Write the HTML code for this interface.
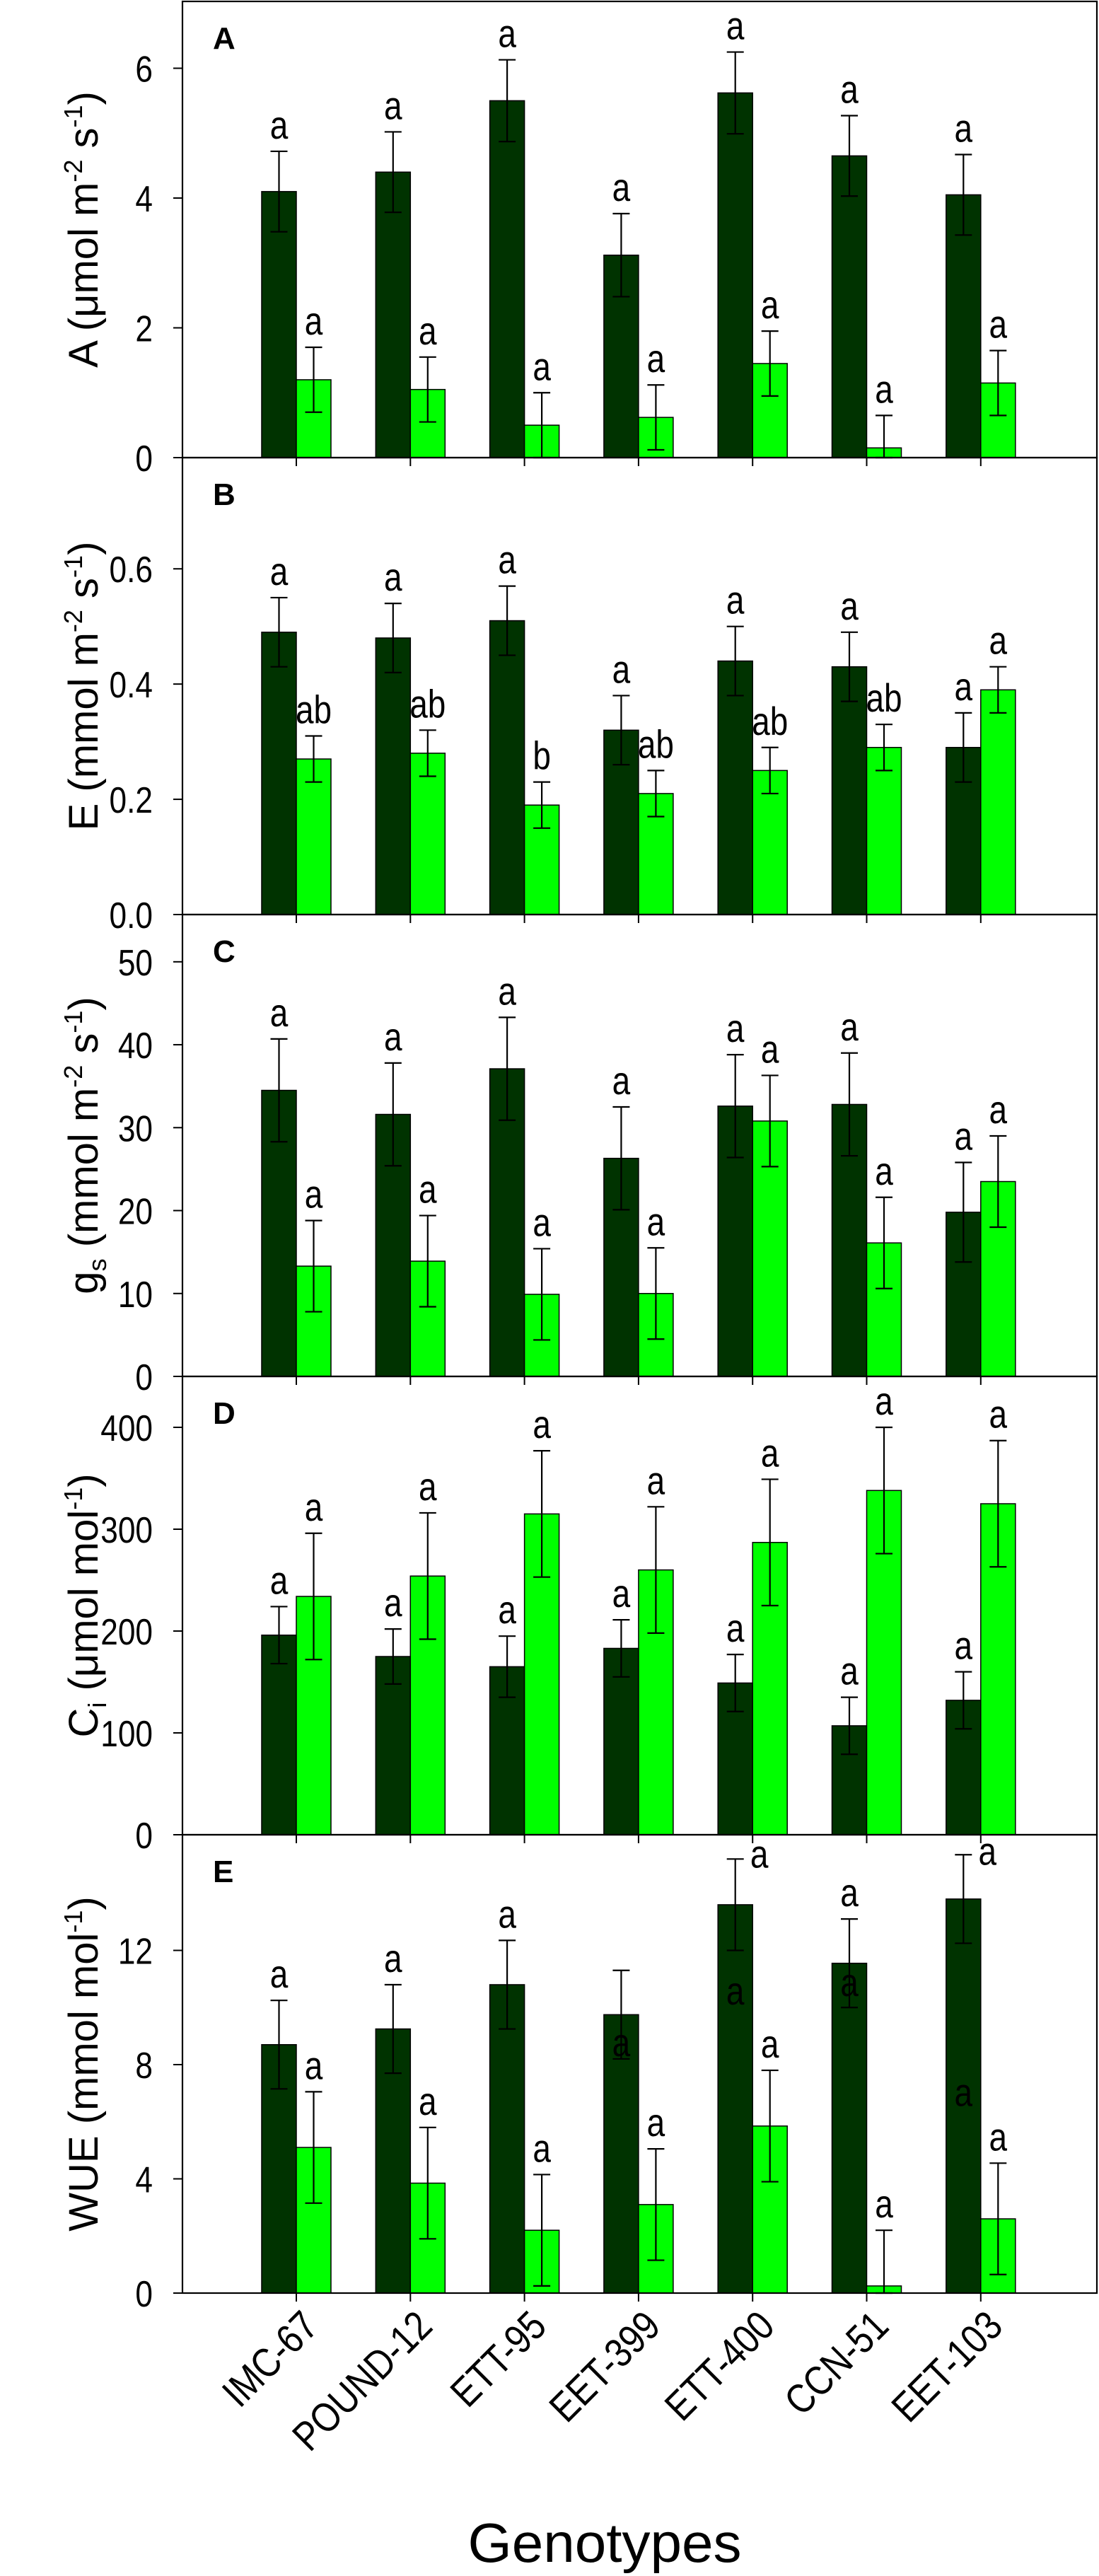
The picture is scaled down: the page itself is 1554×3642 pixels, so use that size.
<!DOCTYPE html>
<html><head><meta charset="utf-8">
<style>
html,body{margin:0;padding:0;background:#fff;}
svg{display:block;font-family:"Liberation Sans",Arial,sans-serif;}
</style></head>
<body>
<svg id="chart" width="1554" height="3642" viewBox="0 0 1554 3642" xmlns="http://www.w3.org/2000/svg"></svg>
<script>
const genotypes = ["IMC-67","POUND-12","ETT-95","EET-399","ETT-400","CCN-51","EET-103"];

const aDark = [4.1,4.4,5.5,3.12,5.62,4.65,4.05];
const aDarkErr = [0.62,0.62,0.63,0.64,0.63,0.62,0.62];
const aLight = [1.2,1.05,0.5,0.62,1.45,0.15,1.15];
const aLightErr = [0.5,0.5,0.5,0.5,0.5,0.5,0.5];
const aDarkLbl = ["a","a","a","a","a","a","a"];
const aLightLbl = ["a","a","a","a","a","a","a"];
const aTicks = [0,2,4,6];

const eDark = [0.49,0.48,0.51,0.32,0.44,0.43,0.29];
const eDarkErr = [0.06,0.06,0.06,0.06,0.06,0.06,0.06];
const eLight = [0.27,0.28,0.19,0.21,0.25,0.29,0.39];
const eLightErr = [0.04,0.04,0.04,0.04,0.04,0.04,0.04];
const eDarkLbl = ["a","a","a","a","a","a","a"];
const eLightLbl = ["ab","ab","b","ab","ab","ab","a"];
const eTicks = [0,0.2,0.4,0.6];

const gDark = [34.5,31.6,37.1,26.3,32.6,32.8,19.8];
const gDarkErr = [6.2,6.2,6.2,6.2,6.2,6.2,6.0];
const gLight = [13.3,13.9,9.9,10.0,30.8,16.1,23.5];
const gLightErr = [5.5,5.5,5.5,5.5,5.5,5.5,5.5];
const gDarkLbl = ["a","a","a","a","a","a","a"];
const gLightLbl = ["a","a","a","a","a","a","a"];
const gTicks = [0,10,20,30,40,50];

const cDark = [196,175,165,183,149,107,132];
const cDarkErr = [28,27,30,28,28,28,28];
const cLight = [234,254,315,260,287,338,325];
const cLightErr = [62,62,62,62,62,62,62];
const cDarkLbl = ["a","a","a","a","a","a","a"];
const cLightLbl = ["a","a","a","a","a","a","a"];
const cTicks = [0,100,200,300,400];

const wDark = [8.7,9.25,10.8,9.75,13.6,11.55,13.8];
const wDarkErr = [1.55,1.55,1.55,1.55,1.6,1.55,1.55];
const wLight = [5.1,3.85,2.2,3.1,5.85,0.25,2.6];
const wLightErr = [1.95,1.95,1.95,1.95,1.95,1.95,1.95];
const wDarkLbl = ["a","a","a","","","a",""];
const wLightLbl = ["a","a","a","a","a","a","a"];
const wTicks = [0,4,8,12];
const wExtraIdx = [3,4,4,5,6,6];
const wExtraVal = [8.3,14.9,10.1,10.4,15.0,6.55];
const wExtraSide = [0,1,0,0,1,0];

const svg = document.getElementById('chart');
const NS = "http://www.w3.org/2000/svg";
const X0 = 258, X1 = 1551, G0 = 419, GSTEP = 161.3, BW = 49;
const DARK = "#003300", LIGHT = "#00ff00";
function gx(i){ return G0 + i*GSTEP; }
function mk(tag, attrs, parent){
  const e = document.createElementNS(NS, tag);
  for (const k in attrs) e.setAttribute(k, attrs[k]);
  (parent||svg).appendChild(e);
  return e;
}
function letter(parent, cx, by, txt){
  const t = mk('text', {x:0, y:0, "font-size":56, "text-anchor":"middle", fill:"#000", transform:`translate(${cx} ${by}) scale(0.82 1)`}, parent);
  t.textContent = txt;
  return t;
}

const panels = [
 {id:"a", letter:"A", top:2, bot:647, max:7.03, dark:aDark, dErr:aDarkErr, light:aLight, lErr:aLightErr, dL:aDarkLbl, lL:aLightLbl, ticks:aTicks, dec:0, title:'A (μmol m<tspan dy="-22" font-size="36">-2</tspan><tspan dy="22"> s</tspan><tspan dy="-22" font-size="36">-1</tspan><tspan dy="22">)</tspan>'},
 {id:"b", letter:"B", top:647, bot:1293, max:0.793, dark:eDark, dErr:eDarkErr, light:eLight, lErr:eLightErr, dL:eDarkLbl, lL:eLightLbl, ticks:eTicks, dec:1, title:'E (mmol  m<tspan dy="-22" font-size="36">-2</tspan><tspan dy="22"> s</tspan><tspan dy="-22" font-size="36">-1</tspan><tspan dy="22">)</tspan>'},
 {id:"c", letter:"C", top:1293, bot:1946, max:55.7, dark:gDark, dErr:gDarkErr, light:gLight, lErr:gLightErr, dL:gDarkLbl, lL:gLightLbl, ticks:gTicks, dec:0, title:'g<tspan dy="12" font-size="36">s</tspan><tspan dy="-12"> (mmol m</tspan><tspan dy="-22" font-size="36">-2</tspan><tspan dy="22"> s</tspan><tspan dy="-22" font-size="36">-1</tspan><tspan dy="22">)</tspan>'},
 {id:"d", letter:"D", top:1946, bot:2594, max:450, dark:cDark, dErr:cDarkErr, light:cLight, lErr:cLightErr, dL:cDarkLbl, lL:cLightLbl, ticks:cTicks, dec:0, title:'C<tspan dy="12" font-size="36">i</tspan><tspan dy="-12"> (μmol  mol</tspan><tspan dy="-22" font-size="36">-1</tspan><tspan dy="22">)</tspan>'},
 {id:"e", letter:"E", top:2594, bot:3242, max:16.05, dark:wDark, dErr:wDarkErr, light:wLight, lErr:wLightErr, dL:wDarkLbl, lL:wLightLbl, ticks:wTicks, dec:0, title:'WUE (mmol  mol<tspan dy="-22" font-size="36">-1</tspan><tspan dy="22">)</tspan>'}
];

panels.forEach(p => {
  const y = v => p.bot - v*(p.bot - p.top)/p.max;
  const g = mk('g', {});
  
  

  const drawSeries = (vals, errs, lbls, off, color, kind) => {
    vals.forEach((v, i) => {
      const x = gx(i) + off;
      const r = mk('rect', {x:x, y:y(v), width:BW, height:p.bot - y(v), fill:color, stroke:"#000", "stroke-width":1.5}, g);
      
      
      const cx = x + BW/2;
      const yt = y(v + errs[i]), yb = y(Math.max(0, v - errs[i]));
      const eg = mk('g', {stroke:"#000", "stroke-width":2.2}, g);
      
      
      mk('line', {x1:cx, y1:yt, x2:cx, y2:yb}, eg);
      mk('line', {x1:cx-12, y1:yt, x2:cx+12, y2:yt}, eg);
      mk('line', {x1:cx-12, y1:yb, x2:cx+12, y2:yb}, eg);
      if (lbls[i]) {
        const t = letter(g, cx, yt - 18, lbls[i]);
        
        
      }
    });
  };
  drawSeries(p.dark, p.dErr, p.dL, -BW, DARK, 'control');
  drawSeries(p.light, p.lErr, p.lL, 0, LIGHT, 'treatment');

  if (p.id === "e") {
    wExtraIdx.forEach((gi, k) => {
      const cx = gx(gi) - BW/2 + (wExtraSide[k] ? 34 : 0);
      const t = letter(g, cx, y(wExtraVal[k]), "a");
      
      
    });
  }

  const fr = mk('rect', {x:X0, y:p.top, width:X1 - X0, height:p.bot - p.top, fill:"none", stroke:"#000", "stroke-width":2.2}, g);
  
  

  p.ticks.forEach(tv => {
    const ty = y(tv);
    mk('line', {x1:X0 - 13, y1:ty, x2:X0, y2:ty, stroke:"#000", "stroke-width":2}, g);
    const t = mk('text', {x:0, y:0, "font-size":52, "text-anchor":"end", fill:"#000", transform:`translate(216 ${ty + 19}) scale(0.85 1)`}, g);
    t.textContent = tv.toFixed(p.dec);
    
    
  });
  genotypes.forEach((gname, i) => {
    mk('line', {x1:gx(i), y1:p.bot, x2:gx(i), y2:p.bot + 12, stroke:"#000", "stroke-width":2}, g);
  });

  const pl = mk('text', {x:301, y:p.top + 67, "font-size":44, "font-weight":"bold", fill:"#000"}, g);
  pl.textContent = p.letter;
  
  

  const cy = (p.top + p.bot)/2;
  const yt = mk('text', {x:0, y:0, "font-size":58, "text-anchor":"middle", fill:"#000", transform:`translate(138 ${cy}) rotate(-90)`}, g);
  yt.innerHTML = p.title;
  
  
});

genotypes.forEach((gname, i) => {
  const t = mk('text', {x:0, y:0, "font-size":58, "text-anchor":"end", fill:"#000", transform:`translate(${gx(i) + 34} 3292) rotate(-45) scale(0.85 1)`});
  t.textContent = gname;
  
  
});

const xt = mk('text', {x:855, y:3622, "font-size":78, "text-anchor":"middle", fill:"#000", textLength:387, lengthAdjust:"spacingAndGlyphs"});
xt.textContent = "Genotypes";


</script>
</body></html>
